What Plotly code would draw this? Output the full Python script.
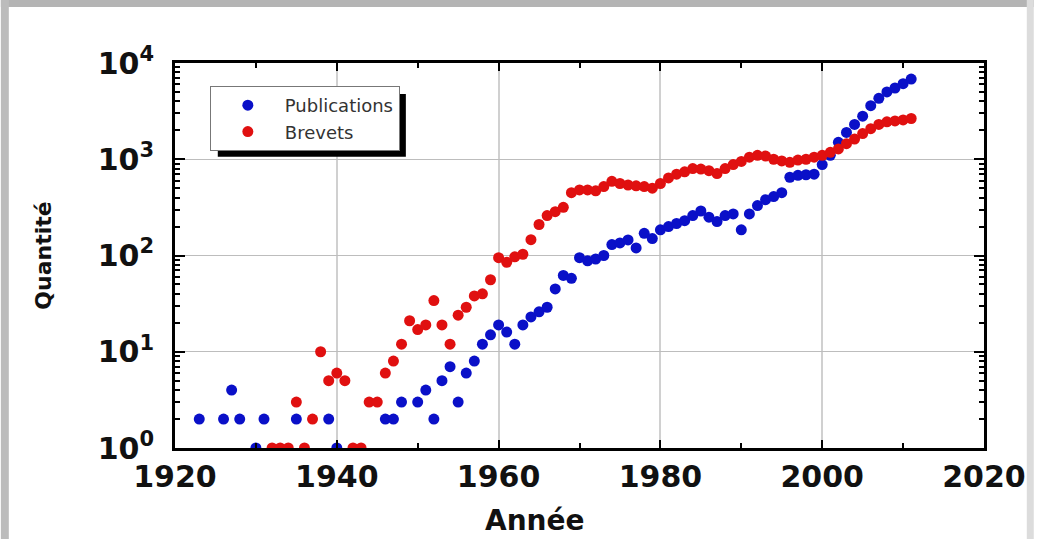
import plotly.graph_objects as go

# ---------------- data ----------------
pub_years = [1923, 1926, 1927, 1928, 1930, 1931, 1935, 1939, 1940, 1946, 1947, 1948, 1950,
             1951, 1952, 1953, 1954, 1955, 1956, 1957, 1958, 1959, 1960, 1961, 1962, 1963,
             1964, 1965, 1966, 1967, 1968, 1969, 1970, 1971, 1972, 1973, 1974, 1975, 1976,
             1977, 1978, 1979, 1980, 1981, 1982, 1983, 1984, 1985, 1986, 1987, 1988, 1989,
             1990, 1991, 1992, 1993, 1994, 1995, 1996, 1997, 1998, 1999, 2000, 2001, 2002,
             2003, 2004, 2005, 2006, 2007, 2008, 2009, 2010, 2011]
pub_values = [2, 2, 4, 2, 1, 2, 2, 2, 1, 2, 2, 3, 3,
              4, 2, 5, 7, 3, 6, 8, 12, 15, 19, 16, 12, 19,
              23, 26, 29, 45, 62, 58, 95, 88, 92, 100, 130, 135, 145,
              120, 170, 150, 185, 200, 215, 230, 260, 290, 250, 225, 260, 270,
              185, 270, 330, 380, 410, 450, 650, 680, 690, 700, 880, 1100, 1500,
              1900, 2300, 2800, 3600, 4300, 5000, 5500, 6100, 6800]

brev_years = [1932, 1933, 1934, 1935, 1936, 1937, 1938, 1939, 1940, 1941, 1942, 1943, 1944,
              1945, 1946, 1947, 1948, 1949, 1950, 1951, 1952, 1953, 1954, 1955, 1956, 1957,
              1958, 1959, 1960, 1961, 1962, 1963, 1964, 1965, 1966, 1967, 1968, 1969, 1970,
              1971, 1972, 1973, 1974, 1975, 1976, 1977, 1978, 1979, 1980, 1981, 1982, 1983,
              1984, 1985, 1986, 1987, 1988, 1989, 1990, 1991, 1992, 1993, 1994, 1995, 1996,
              1997, 1998, 1999, 2000, 2001, 2002, 2003, 2004, 2005, 2006, 2007, 2008, 2009,
              2010, 2011]
brev_values = [1, 1, 1, 3, 1, 2, 10, 5, 6, 5, 1, 1, 3,
               3, 6, 8, 12, 21, 17, 19, 34, 19, 12, 24, 29, 38,
               40, 56, 95, 85, 97, 103, 146, 210, 260, 285, 317, 450, 480,
               480, 470, 520, 590, 560, 540, 530, 520, 500, 560, 640, 700, 740,
               800, 790, 760, 710, 800, 880, 950, 1050, 1100, 1080, 1000, 960, 930,
               980, 1000, 1050, 1100, 1180, 1280, 1450, 1620, 1850, 2080, 2300, 2450, 2500,
               2560, 2650]

y_tickvals = [1, 10, 100, 1000, 10000]
y_ticktext = ["10<sup>0</sup>", "10<sup>1</sup>", "10<sup>2</sup>", "10<sup>3</sup>", "10<sup>4</sup>"]
y_minor = [m * 10 ** k for k in range(4) for m in range(2, 10)]

# ---------------- layout geometry ----------------
W_FIG, H_FIG = 1038, 539
L, R, T, B = 175, 50, 63, 91
PW, PH = W_FIG - L - R, H_FIG - T - B


def px_x(px):
    return (px - L) / PW


def px_y(py):
    return 1 - (py - T) / PH


fig = go.Figure()
fig.add_trace(go.Scatter(x=pub_years, y=pub_values, mode="markers", name="Publications",
                         marker=dict(color="#0a10c8", size=11)))
fig.add_trace(go.Scatter(x=brev_years, y=brev_values, mode="markers", name="Brevets",
                         marker=dict(color="#e01010", size=11)))

tickfont = dict(family="DejaVu Sans", size=30, color="#111", weight="bold")

LEG_FONT = 18
LEG_ITEMW = 64
LEG_LEFT, LEG_TOP = 210, 86

fig.update_layout(
    width=W_FIG, height=H_FIG,
    margin=dict(l=L, r=R, t=T, b=B),
    paper_bgcolor="white", plot_bgcolor="white",
    showlegend=True,
    legend=dict(x=px_x(LEG_LEFT), y=px_y(LEG_TOP), xanchor="left", yanchor="top",
                bgcolor="white", bordercolor="#777", borderwidth=1,
                font=dict(family="DejaVu Sans", size=LEG_FONT, color="#333"),
                itemwidth=LEG_ITEMW, tracegroupgap=0),
    xaxis=dict(range=[1920, 2020], dtick=20, tick0=1920,
               showgrid=True, gridcolor="#d0d0d0", gridwidth=2,
               showline=True, linecolor="black", linewidth=3, mirror="ticks",
               ticks="inside", ticklen=8, tickwidth=2, tickcolor="black",
               minor=dict(dtick=10, ticks="inside", ticklen=5, tickwidth=2,
                          tickcolor="black", showgrid=False),
               tickfont=tickfont, zeroline=False),
    yaxis=dict(type="log", range=[0, 4], tickvals=y_tickvals, ticktext=y_ticktext,
               showgrid=True, gridcolor="#bdbdbd", gridwidth=1,
               showline=True, linecolor="black", linewidth=3, mirror="ticks",
               ticks="inside", ticklen=10, tickwidth=2, tickcolor="black",
               minor=dict(tickvals=y_minor, ticks="inside", ticklen=5, tickwidth=1.5,
                          tickcolor="black", showgrid=False),
               tickfont=tickfont, ticklabelstandoff=12, zeroline=False,
               title=dict(text="Quantité", standoff=40,
                          font=dict(family="DejaVu Sans", size=22, color="#111", weight="bold"))),
    annotations=[dict(text="Année", xref="paper", yref="paper",
                      x=px_x(537), y=px_y(520), xanchor="center", yanchor="middle",
                      showarrow=False,
                      font=dict(family="DejaVu Sans", size=28, color="#111", weight="bold"))],
)

# approximate legend box size (plotly: text width + itemwidth + 17, 2 rows)
leg_w = 6.0 * LEG_FONT + LEG_ITEMW + 17
leg_h = 2 * (LEG_FONT * 1.3 + 3) + 12

shapes = []
# legend drop shadow
shapes.append(dict(type="rect", xref="paper", yref="paper", layer="above",
                   x0=px_x(LEG_LEFT + 8), x1=px_x(LEG_LEFT + leg_w + 8),
                   y0=px_y(LEG_TOP + leg_h + 6), y1=px_y(LEG_TOP + 8),
                   fillcolor="black", line=dict(width=0)))
# picture frame (grey border / shadow)
shapes.append(dict(type="rect", xref="paper", yref="paper", layer="below",
                   x0=px_x(0), x1=px_x(W_FIG), y0=px_y(7), y1=px_y(0),
                   fillcolor="#b4b4b4", line=dict(width=0)))
shapes.append(dict(type="rect", xref="paper", yref="paper", layer="below",
                   x0=px_x(0), x1=px_x(8), y0=px_y(H_FIG), y1=px_y(0),
                   fillcolor="#bcbcbc", line=dict(width=0)))
shapes.append(dict(type="rect", xref="paper", yref="paper", layer="below",
                   x0=px_x(1031), x1=px_x(W_FIG), y0=px_y(H_FIG), y1=px_y(0),
                   fillcolor="#dcdcdc", line=dict(width=0)))
fig.update_layout(shapes=shapes)

fig.write_html("out.html")
